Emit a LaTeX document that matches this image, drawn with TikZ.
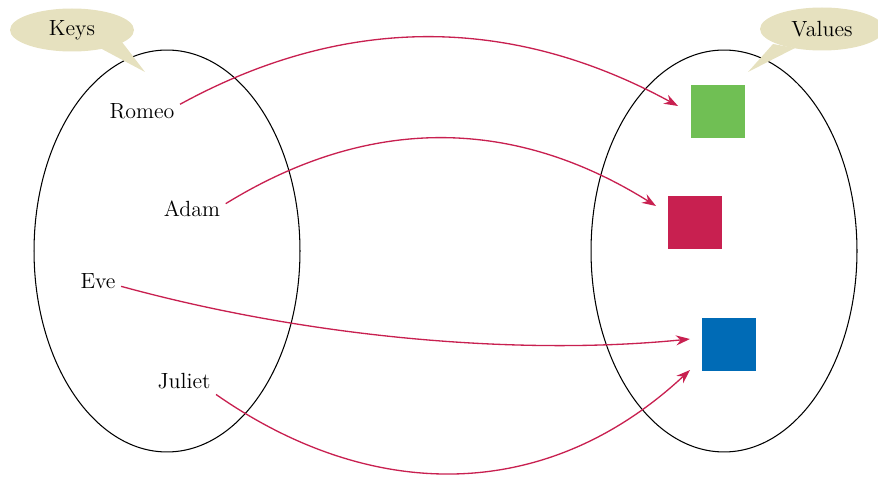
\documentclass[tikz,border=0pt]{standalone}
\usepackage{tikz}
\usetikzlibrary{arrows.meta, positioning, shapes.geometric}
\definecolor{mapred}{RGB}{200,32,80}
\definecolor{bubble}{RGB}{230,225,191}
\definecolor{valgreen}{RGB}{112,191,84}
\definecolor{valblue}{RGB}{0,107,182}

\begin{document}
\begin{tikzpicture}[
    x=0.02cm, y=-0.02cm,
    set/.style={ellipse, draw, line width=0.6pt, minimum width=5.32cm,
                minimum height=8.04cm, inner sep=0pt},
    key/.style={font=\fontsize{12.5}{14}\selectfont, inner sep=3pt},
    value/.style={rectangle, minimum size=1.08cm, inner sep=0pt},
    callout/.style={ellipse, fill=bubble, minimum width=2.48cm,
                    minimum height=0.86cm, inner sep=0pt,
                    font=\fontsize{12.5}{14}\selectfont},
    arrow/.style={-{Stealth[length=0.28cm, width=0.2cm]}, draw=mapred,
                  line width=0.75pt}
]
\useasboundingbox (0,0) rectangle (878,479);

%% The two sets
\node[set] (keyset) at (167,251) {};
\node[set] (valset) at (724,251) {};

%% Callouts
\fill[bubble] (100,48) -- (145,72) -- (122,42) -- cycle;
\node[callout] (keys) at (72,30) {Keys};
\fill[bubble] (773,44) -- (748,72) -- (795,48) -- cycle;
\node[callout] (values) at (822,29) {Values};

%% Keys
\node[key] (romeo)  at (142,111) {Romeo};
\node[key] (adam)   at (192,209) {Adam};
\node[key] (eve)    at (98,281)  {Eve};
\node[key] (juliet) at (184,381) {Juliet};

%% Values
\node[value, fill=valgreen] (green) at (718,111.5) {};
\node[value, fill=mapred]   (red)   at (695,222.5) {};
\node[value, fill=valblue]  (blue)  at (729,344.5) {};

%% Arrow ends
\coordinate (gtip) at (678,106);
\coordinate (rtip) at (656,206);
\coordinate (btip) at (690,339);
\coordinate (jtip) at (690,370);

%% Arrows: keys -> values
\draw[arrow] (romeo.10) .. controls (345,14) and (511,15) .. (gtip);
\draw[arrow] (adam.9) .. controls (368,116) and (512,116) .. (rtip);
\draw[arrow] (eve.-13) .. controls (310,338) and (520,356) .. (btip);
\draw[arrow] (juliet.south east) .. controls (370,502) and (545,505) .. (jtip);

\end{tikzpicture}
\end{document}
